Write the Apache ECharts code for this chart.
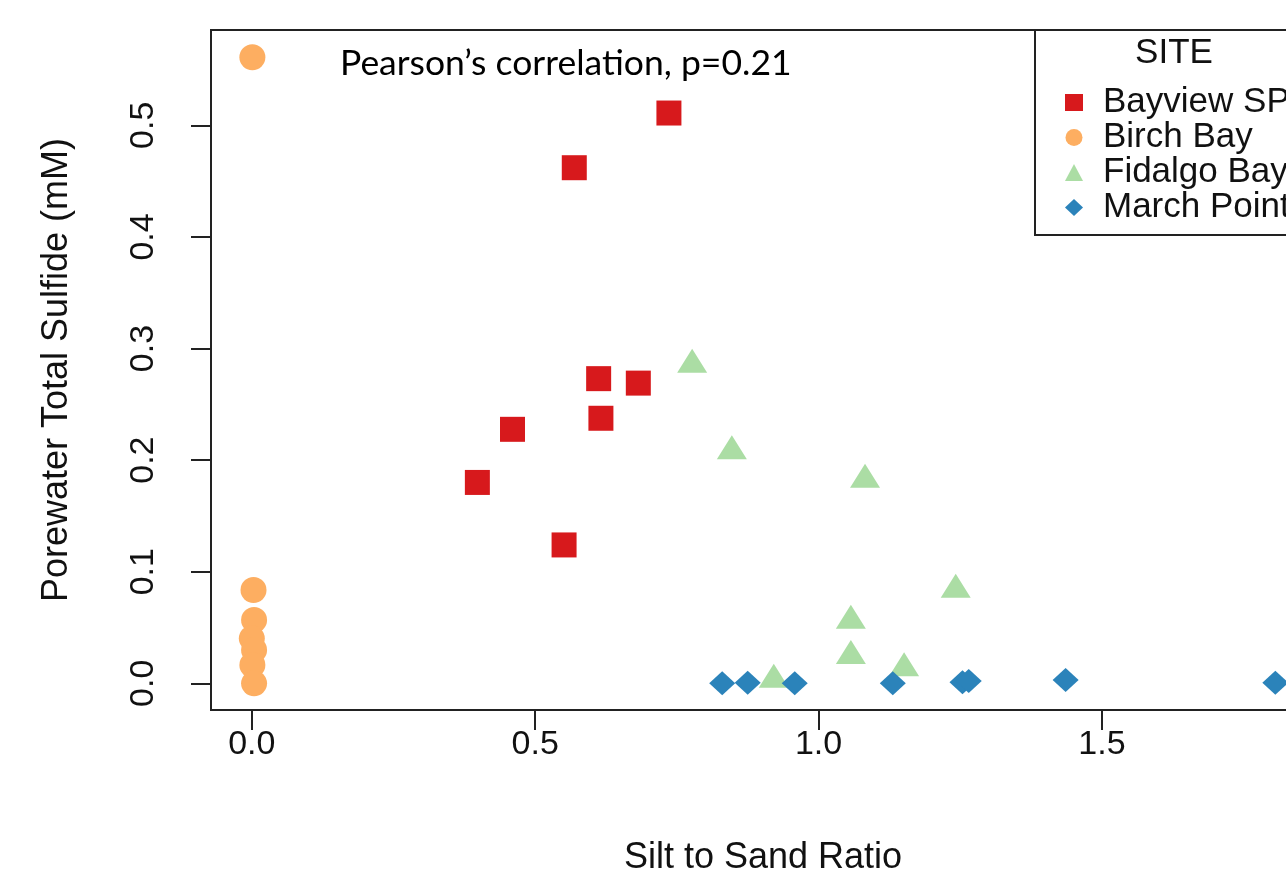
<!DOCTYPE html>
<html>
<head>
<meta charset="utf-8">
<script src="https://cdn.jsdelivr.net/npm/echarts@6/dist/echarts.min.js"></script>
<style>
  html, body { margin: 0; padding: 0; background: #fff; }
  #chart { width: 1286px; height: 877px; }
</style>
</head>
<body>
<div id="chart"></div>
<script>
const siteNames = ["Bayview SP", "Birch Bay", "Fidalgo Bay", "March Point"];
const siteColors = ["#d7191c", "#fdae61", "#abdda4", "#2b83ba"];

// [silt to sand ratio, porewater total sulfide (mM)]
const bayview = [
  [0.736, 0.511], [0.569, 0.462], [0.612, 0.273], [0.682, 0.269],
  [0.616, 0.2375], [0.460, 0.2276], [0.398, 0.180], [0.551, 0.124]
];
const birch = [
  [0.001, 0.561], [0.003, 0.0836], [0.004, 0.0567], [0.000, 0.0403],
  [0.004, 0.0299], [0.001, 0.0164], [0.004, 0.000]
];
const fidalgo = [
  [0.777, 0.2854], [0.847, 0.208], [1.082, 0.1825], [1.242, 0.0838],
  [1.057, 0.056], [1.057, 0.0245], [1.151, 0.0134], [0.921, 0.0033]
];
const marchPoint = [
  [0.830, 0.000], [0.875, 0.0006], [0.958, 0.000], [1.131, 0.000],
  [1.254, 0.001], [1.265, 0.002], [1.436, 0.003], [1.806, 0.0005]
];

const xTicks = [0, 0.5, 1.0, 1.5];
const yTicks = [0, 0.1, 0.2, 0.3, 0.4, 0.5];

const rFont = "'Liberation Sans', Arial, sans-serif";

const chart = echarts.init(document.getElementById("chart"));
chart.setOption({
  backgroundColor: "#fff",
  animation: false,
  grid: {
    left: 211, top: 30, width: 1104, height: 680,
    outerBoundsMode: "none", containLabel: false,
    show: true, borderColor: "#222", borderWidth: 2, backgroundColor: "#fff"
  },
  xAxis: {
    type: "value", min: -0.072, max: 1.876,
    name: "Silt to Sand Ratio", nameLocation: "middle", nameGap: 130,
    nameTextStyle: { fontFamily: rFont, fontSize: 36, color: "#111" },
    axisLine: { show: false, onZero: false },
    splitLine: { show: false },
    axisTick: { show: true, length: 20, customValues: xTicks, lineStyle: { color: "#222", width: 2 } },
    axisLabel: {
      customValues: xTicks, margin: 18, fontFamily: rFont, fontSize: 34, color: "#111",
      formatter: v => v.toFixed(1)
    }
  },
  yAxis: {
    type: "value", min: -0.0239, max: 0.5854,
    name: "Porewater Total Sulfide (mM)", nameLocation: "middle", nameGap: 136,
    nameTextStyle: { fontFamily: rFont, fontSize: 36, color: "#111" },
    axisLine: { show: false, onZero: false },
    splitLine: { show: false },
    axisTick: { show: true, length: 20, customValues: yTicks, lineStyle: { color: "#222", width: 2 } },
    axisLabel: {
      customValues: yTicks, rotate: 90, margin: 50, fontFamily: rFont, fontSize: 34, color: "#111",
      formatter: v => v.toFixed(1)
    }
  },
  legend: {
    orient: "vertical", left: 1060, top: 80, itemGap: 0,
    itemWidth: 18, itemHeight: 17,
    textStyle: { fontFamily: rFont, fontSize: 35, lineHeight: 34, color: "#111", padding: [0, 0, 0, 15] },
    data: [
      { name: siteNames[0], icon: "rect" },
      { name: siteNames[1], icon: "circle" },
      { name: siteNames[2], icon: "triangle" },
      { name: siteNames[3], icon: "diamond" }
    ]
  },
  graphic: [
    {
      type: "rect", z: 3,
      shape: { x: 1035, y: 30, width: 280, height: 205 },
      style: { fill: "#fff", stroke: "#222", lineWidth: 2 }
    },
    {
      type: "text", z: 5, x: 1174, y: 53,
      style: { text: "SITE", fontFamily: rFont, fontSize: 35, fill: "#111", align: "center", verticalAlign: "middle" }
    },
    {
      type: "text", z: 5, x: 340, y: 64,
      style: { text: "Pearson’s correlation, p=0.21", fontFamily: "Lato, 'Open Sans', sans-serif", fontSize: 35.5, fill: "#000", verticalAlign: "middle" }
    }
  ],
  series: [
    { name: siteNames[0], type: "scatter", data: bayview, symbol: "rect", symbolSize: 25, itemStyle: { color: siteColors[0], opacity: 1 } },
    { name: siteNames[1], type: "scatter", data: birch, symbol: "circle", symbolSize: 26, itemStyle: { color: siteColors[1], opacity: 1 } },
    { name: siteNames[2], type: "scatter", data: fidalgo, symbol: "triangle", symbolSize: [30, 24], symbolOffset: [0, -4], itemStyle: { color: siteColors[2], opacity: 1 } },
    { name: siteNames[3], type: "scatter", data: marchPoint, symbol: "diamond", symbolSize: [26, 24], itemStyle: { color: siteColors[3], opacity: 1 } }
  ]
});
</script>
</body>
</html>
